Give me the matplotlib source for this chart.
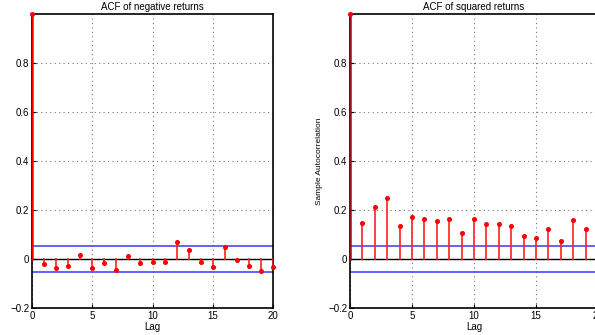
import matplotlib
matplotlib.use("Agg")
import matplotlib.pyplot as plt
import numpy as np

plt.rcParams['font.family'] = ['Liberation Sans', 'DejaVu Sans']

lags_neg = np.arange(0, 21)
acf_neg = [1.0, -0.020, -0.037, -0.029, 0.015, -0.037, -0.016, -0.044, 0.011,
           -0.015, -0.014, -0.014, 0.071, 0.035, -0.011, -0.034, 0.050, -0.003,
           -0.028, -0.049, -0.032]

lags_sq = np.arange(0, 20)
acf_sq = [1.0, 0.147, 0.212, 0.249, 0.133, 0.173, 0.162, 0.155, 0.162, 0.107,
          0.162, 0.143, 0.144, 0.135, 0.094, 0.086, 0.122, 0.073, 0.159, 0.122]

bound = 0.052

fig = plt.figure(figsize=(5.95, 3.35), dpi=100)
ax1 = fig.add_axes([32 / 595, 27 / 335, 241 / 595, 294 / 335])
ax2 = fig.add_axes([350 / 595, 27 / 335, 248 / 595, 294 / 335])


def acf_panel(ax, lags, vals, title, lag0_color):
    ax.axhline(0, color='black', lw=1, zorder=2)
    for k, v in zip(lags, vals):
        c = lag0_color if k == 0 else '#ff2020'
        lw = 1.8 if k == 0 else 1.2
        ax.plot([k, k], [0, v], color=c, lw=lw, zorder=3)
    ax.plot(lags, vals, 'o', color='red', ms=2.6, mec='red', zorder=4, clip_on=False)
    ax.axhline(bound, color='#4848ff', lw=1.2, zorder=2)
    ax.axhline(-bound, color='#4848ff', lw=1.2, zorder=2)
    ax.set_xlim(0, 20)
    ax.set_ylim(-0.2, 1.0)
    ax.set_xticks([0, 5, 10, 15, 20])
    ax.set_yticks([-0.2, 0, 0.2, 0.4, 0.6, 0.8])
    ax.set_yticklabels(['\u22120.2', '0', '0.2', '0.4', '0.6', '0.8'])
    ax.grid(True, ls=(0, (1, 3)), color='#777777', lw=0.8)
    ax.tick_params(direction='in', labelsize=7, length=3, pad=2)
    for s in ax.spines.values():
        s.set_linewidth(1.2)
    ax.set_title(title, fontsize=7, pad=3)
    ax.set_xlabel('Lag', fontsize=7, labelpad=1)


acf_panel(ax1, lags_neg, acf_neg, 'ACF of negative returns', 'red')
acf_panel(ax2, lags_sq, acf_sq, 'ACF of squared returns', '#a01010')
ax2.set_ylabel('Sample Autocorrelation', fontsize=6, labelpad=4)

fig.savefig('out.png', dpi=100)
